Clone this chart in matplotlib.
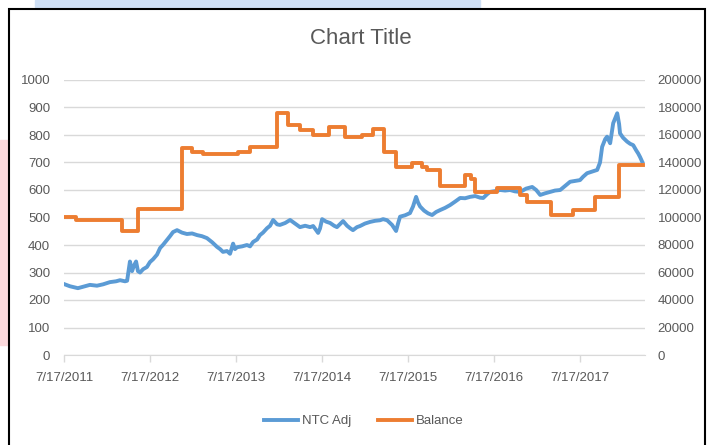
import matplotlib.pyplot as plt
import matplotlib.dates as mdates
import matplotlib.patches as mpatches
import pandas as pd

start = pd.Timestamp("2011-07-17")

# NTC Adj (left axis), days counted from 7/17/2011
ntc_days = [0, 25, 59, 89, 110, 140, 166, 195, 221, 238, 259, 268, 280, 289, 297, 306,
            314, 323, 336, 352, 365, 378, 395, 408, 420, 437, 450, 463, 480, 501, 522,
            544, 565, 586, 607, 629, 650, 663, 675, 692, 705, 718, 726, 735, 756, 777,
            790, 803, 820, 832, 845, 862, 875, 888, 905, 917, 939, 960, 981, 1002, 1024,
            1045, 1058, 1079, 1087, 1096, 1113, 1130, 1147, 1159, 1185, 1202, 1215, 1227,
            1244, 1257, 1278, 1300, 1321, 1342, 1355, 1372, 1393, 1410, 1419, 1427, 1448,
            1469, 1482, 1495, 1503, 1512, 1529, 1546, 1563, 1580, 1597, 1618, 1639, 1661,
            1682, 1703, 1724, 1746, 1767, 1780, 1797, 1809, 1830, 1852, 1873, 1894, 1915,
            1937, 1962, 1988, 2005, 2022, 2043, 2064, 2085, 2107, 2128, 2149, 2170, 2191,
            2204, 2221, 2242, 2264, 2276, 2285, 2298, 2306, 2319, 2332, 2340, 2349, 2357,
            2361, 2374, 2391, 2404, 2417, 2429, 2438, 2446, 2455]
ntc_adj = [258, 250, 243, 250, 255, 252, 257, 265, 268, 272, 268, 270, 340, 305, 325, 340,
           305, 300, 312, 320, 338, 348, 365, 389, 400, 418, 432, 447, 454, 445, 440,
           442, 436, 432, 425, 410, 393, 385, 375, 378, 368, 405, 385, 392, 395, 400,
           395, 411, 420, 436, 445, 461, 470, 491, 475, 473, 480, 491, 478, 465, 470,
           465, 469, 444, 460, 494, 485, 480, 470, 465, 487, 470, 461, 454,
           465, 469, 478, 484, 488, 490, 494, 490, 473, 451, 480, 503, 508,
           516, 540, 575, 555, 540, 525, 515, 509, 520, 527, 535, 545, 558,
           571, 570, 575, 578, 572, 571, 585, 593, 596, 600, 598, 600, 595,
           593, 605, 611, 600, 582, 588, 593, 598, 600, 615, 630, 633, 636,
           648, 661, 667, 673, 700, 757, 785, 794, 770, 843, 860, 879, 840,
           806, 790, 776, 768, 763, 745, 733, 720, 703]

# Balance (right axis), step changes
bal_days = [0, 51, 246, 314, 501, 544, 590, 739, 790, 905, 951, 1002, 1058, 1125, 1193,
            1266, 1312, 1359, 1410, 1478, 1520, 1542, 1597, 1703, 1729, 1746, 1839, 1937,
            1966, 2068, 2162, 2255, 2357, 2459]
balance = [100000, 98500, 90000, 106000, 150500, 147600, 146000, 147600, 151000, 176000,
           167000, 163600, 160000, 166000, 158500, 160000, 164400, 147600, 136800, 139600,
           137000, 134500, 123000, 131000, 128000, 118500, 121400, 116400, 111300, 101800,
           105500, 115000, 138200, 138200]

tick_dates = ["2011-07-17", "2012-07-17", "2013-07-17", "2014-07-17",
              "2015-07-17", "2016-07-17", "2017-07-17"]

ntc_x = start + pd.to_timedelta(ntc_days, unit="D")
bal_x = start + pd.to_timedelta(bal_days, unit="D")

plt.rcParams["font.family"] = ["Liberation Sans Narrow", "Liberation Sans", "DejaVu Sans"]
grey = "#595959"
blue = "#5B9BD5"
orange = "#ED7D31"

fig = plt.figure(figsize=(7.07, 4.45), dpi=100)

# screenshot surroundings (drawn behind the axes)
fig.patches.append(mpatches.Rectangle((35 / 707, 1 - 7 / 445), 445 / 707, 7 / 445,
                                      transform=fig.transFigure, color="#cfe0f5", zorder=-2))
fig.patches.append(mpatches.Rectangle((0, 1 - 345 / 445), 8 / 707, 205 / 445,
                                      transform=fig.transFigure, color="#fbd9dc", zorder=-2))
fig.patches.append(mpatches.Rectangle((9 / 707, -0.05), 696 / 707, 1.05 - 9 / 445,
                                      transform=fig.transFigure, facecolor="white",
                                      edgecolor="black", linewidth=1.5, zorder=-1))

ax = fig.add_axes([64 / 707, 90 / 445, 581 / 707, 275 / 445])
ax.patch.set_visible(False)
ax2 = ax.twinx()
ax2.patch.set_visible(False)

ax.plot(ntc_x, ntc_adj, color=blue, linewidth=2.8, solid_joinstyle="round", label="NTC Adj")
ax2.step(bal_x, balance, where="post", color=orange, linewidth=2.8, label="Balance")

ax.set_ylim(0, 1000)
ax.set_yticks(range(0, 1001, 100))
ax2.set_ylim(0, 200000)
ax2.set_yticks(range(0, 200001, 20000))
ax.set_xlim(start, start + pd.Timedelta(days=2467))
ax.set_xticks(pd.to_datetime(tick_dates))
ax.xaxis.set_major_formatter(mdates.DateFormatter("%-m/%-d/%Y"))

ax.grid(axis="y", color="#d9d9d9", linewidth=1)
ax.set_axisbelow(True)
for a in (ax, ax2):
    for s in a.spines.values():
        s.set_visible(False)
ax.spines["bottom"].set_visible(True)
ax.spines["bottom"].set_color("#d9d9d9")
ax.tick_params(axis="x", colors="#d9d9d9", length=5, width=1, direction="out",
               labelcolor=grey, labelsize=9.5, pad=7)
ax.tick_params(axis="y", length=0, labelcolor=grey, labelsize=9.5, pad=10)
ax2.tick_params(axis="y", length=0, labelcolor=grey, labelsize=9.5, pad=9)

fig.text(0.51, 1 - 38 / 445, "Chart Title", ha="center", va="center",
         fontsize=16, color=grey)

h1, l1 = ax.get_legend_handles_labels()
h2, l2 = ax2.get_legend_handles_labels()
fig.legend(h1 + h2, l1 + l2, loc="center", bbox_to_anchor=(0.515, 1 - 421 / 445), ncol=2,
           frameon=False, fontsize=9.5, labelcolor=grey, handlelength=2.6,
           handletextpad=0.3, columnspacing=2.0)

fig.savefig("out.png", dpi=100)
